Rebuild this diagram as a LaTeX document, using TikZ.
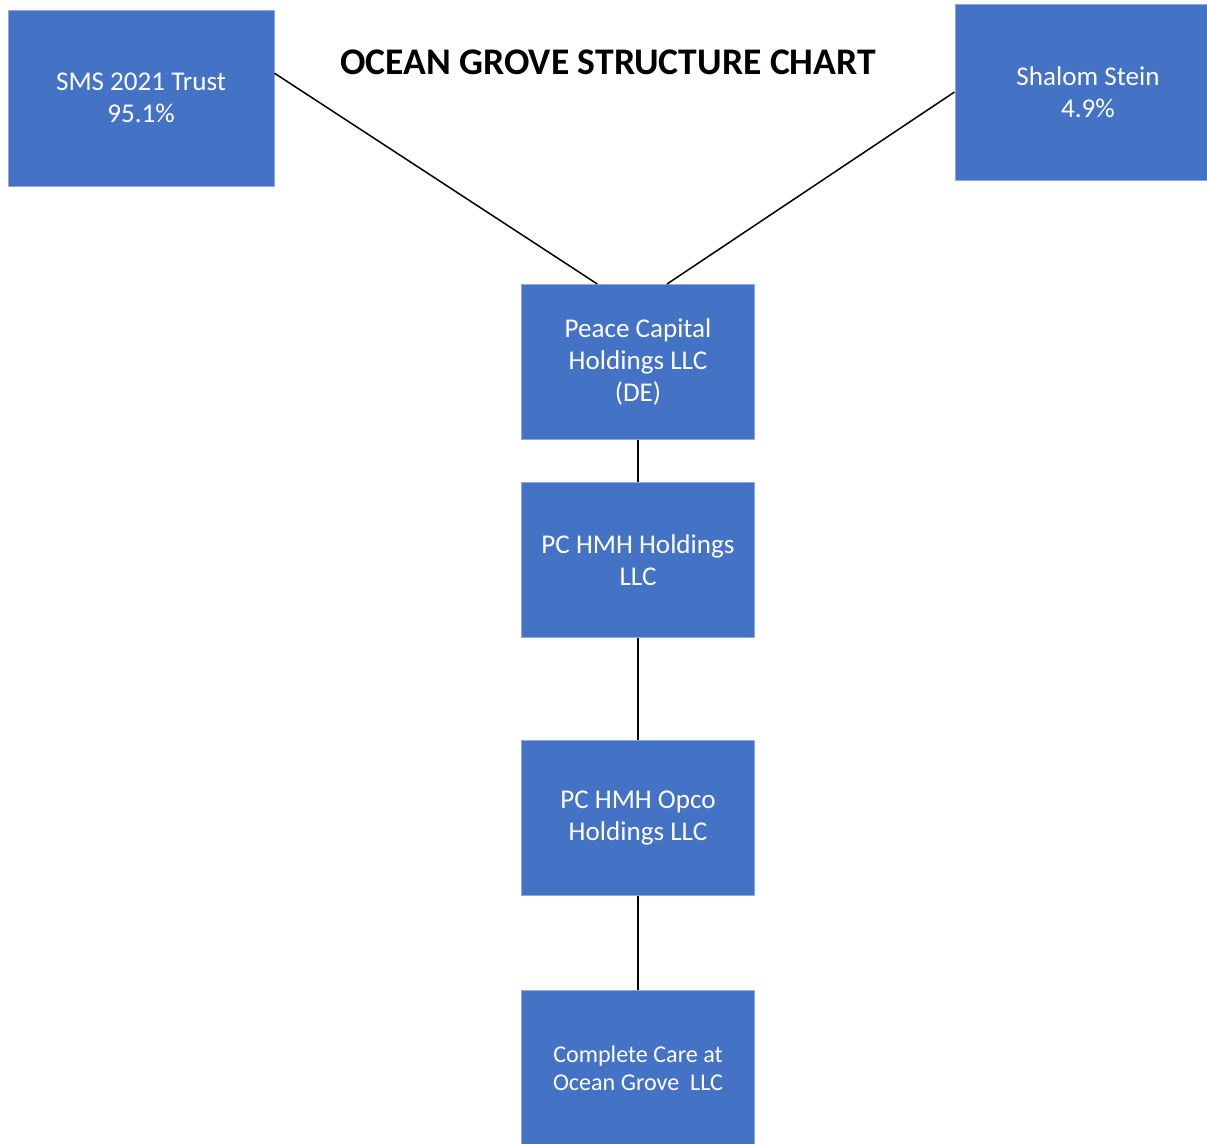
\documentclass[tikz,border=0pt]{standalone}
\usepackage{fontspec}
\setmainfont{Carlito}
\usetikzlibrary{calc}
\definecolor{boxblue}{HTML}{4472C4}
\definecolor{boxedge}{HTML}{8FAADC}
\begin{document}
\begin{tikzpicture}[x=1pt,y=-1pt,
  orgbox/.style={rectangle, fill=boxblue, draw=boxedge, line width=1pt, inner sep=0pt,
    text=white, align=center, font=\fontsize{27.1}{32}\selectfont},
  topbox/.style={orgbox, minimum width=266pt, minimum height=176pt},
  midbox/.style={orgbox, minimum width=233pt, minimum height=155pt},
  link/.style={draw=black, line width=1.5pt}]
\useasboundingbox (0,0) rectangle (1207,1143);
\fill[white] (0,0) rectangle (1207,1143);
\node[font=\fontsize{37.6}{44}\selectfont\bfseries] (title) at (608,62) {OCEAN GROVE STRUCTURE CHART};
\node[topbox] (sms) at (141,98) {SMS 2021 Trust\\95.1\%};
\node[topbox] (shalom) at (1088,92) {Shalom Stein\\4.9\%};
\node[midbox] (peace) at (638,362) {Peace Capital\\Holdings LLC\\(DE)};
\node[midbox] (hmh) at (638,560) {PC HMH Holdings\\LLC};
\node[midbox] (opco) at (638,818) {PC HMH Opco\\Holdings LLC};
\node[midbox, font=\fontsize{24.1}{28.5}\selectfont] (care) at (638,1068) {Complete Care at\\Ocean Grove\ \ LLC};
\draw[link] ($(sms.north east)!0.36!(sms.south east)$) -- ($(peace.north west)!0.326!(peace.north east)$);
\draw[link] (shalom.west) -- ($(peace.north west)!0.624!(peace.north east)$);
\draw[link] (peace.south) -- (hmh.north);
\draw[link] (hmh.south) -- (opco.north);
\draw[link] (opco.south) -- (care.north);
\end{tikzpicture}
\end{document}
